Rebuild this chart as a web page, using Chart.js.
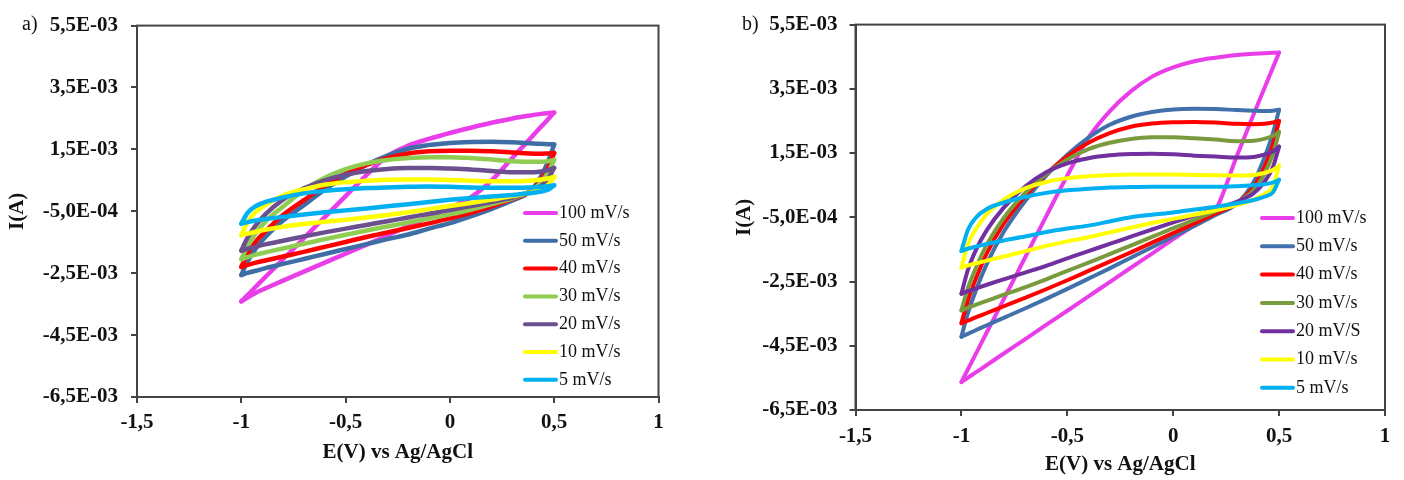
<!DOCTYPE html>
<html>
<head>
<meta charset="utf-8">
<title>Cyclic voltammograms</title>
<script src="https://cdn.jsdelivr.net/npm/chart.js@4.4.1/dist/chart.umd.min.js"></script>
<style>
  html, body { margin: 0; padding: 0; background: #ffffff; }
  body { width: 1404px; height: 480px; position: relative; overflow: hidden; font-family: 'Liberation Serif', 'Times New Roman', serif; }
  .panel { position: absolute; top: 0; height: 480px; }
  #panelA { left: 0; width: 700px; }
  #panelB { left: 700px; width: 704px; }
  .tag { position: absolute; top: 13px; font-size: 20px; line-height: 20px; color: #111; }
</style>
</head>
<body>
<div class="panel" id="panelA"><canvas id="chartA"></canvas></div>
<div class="panel" id="panelB"><canvas id="chartB"></canvas></div>
<div class="tag" style="left:22px">a)</div>
<div class="tag" style="left:742px">b)</div>
<script>
// Potential steps (V vs Ag/AgCl) shared by every scan branch
const potential = [-1, -0.97, -0.93, -0.88, -0.8, -0.7, -0.6, -0.5, -0.4, -0.3, -0.2, -0.1, 0, 0.1, 0.2, 0.3, 0.38, 0.43, 0.47, 0.5];

const scanRatesA = ['100 mV/s', '50 mV/s', '40 mV/s', '30 mV/s', '20 mV/s', '10 mV/s', '5 mV/s'];
const scanRatesB = ['100 mV/s', '50 mV/s', '40 mV/s', '30 mV/s', '20 mV/S', '10 mV/s', '5 mV/s'];

const xTickValues = [-1.5, -1, -0.5, 0, 0.5, 1];
const xTickLabels = ['-1,5', '-1', '-0,5', '0', '0,5', '1'];
const yTickValues = [-6.5e-3, -4.5e-3, -2.5e-3, -0.5e-3, 1.5e-3, 3.5e-3, 5.5e-3];
const yTickLabels = ['-6,5E-03', '-4,5E-03', '-2,5E-03', '-5,0E-04', '1,5E-03', '3,5E-03', '5,5E-03'];

// Panel a, current in mA: forward (anodic) sweep -1 -> 0.5 V, one row per scan rate
const anodicA = [
  [-3.41, -3.21, -2.93, -2.59, -2.05, -1.37, -0.69, -0.01, 0.67, 1.28, 1.62, 1.84, 2.03, 2.20, 2.36, 2.50, 2.59, 2.64, 2.67, 2.69],
  [-2.56, -2.12, -1.70, -1.30, -0.80, -0.30, 0.20, 0.62, 1.00, 1.30, 1.52, 1.64, 1.71, 1.74, 1.75, 1.73, 1.70, 1.68, 1.67, 1.66],
  [-2.30, -1.88, -1.47, -1.12, -0.62, -0.14, 0.32, 0.72, 1.00, 1.22, 1.37, 1.44, 1.46, 1.46, 1.44, 1.40, 1.37, 1.36, 1.37, 1.38],
  [-2.05, -1.62, -1.20, -0.80, -0.35, 0.18, 0.58, 0.86, 1.05, 1.16, 1.22, 1.25, 1.25, 1.22, 1.17, 1.12, 1.10, 1.10, 1.12, 1.16],
  [-1.77, -1.35, -0.95, -0.57, -0.12, 0.24, 0.50, 0.68, 0.80, 0.87, 0.90, 0.90, 0.88, 0.85, 0.80, 0.76, 0.76, 0.78, 0.83, 0.90],
  [-1.27, -0.85, -0.52, -0.28, 0.01, 0.21, 0.36, 0.44, 0.49, 0.52, 0.53, 0.53, 0.51, 0.49, 0.47, 0.47, 0.49, 0.52, 0.56, 0.61],
  [-0.90, -0.55, -0.33, -0.19, -0.05, 0.08, 0.16, 0.21, 0.25, 0.27, 0.29, 0.30, 0.29, 0.27, 0.26, 0.26, 0.27, 0.29, 0.31, 0.34]
];
// Panel a, current in mA: reverse (cathodic) sweep 0.5 -> -1 V, listed by increasing potential
const cathodicA = [
  [-3.41, -3.29, -3.13, -2.98, -2.74, -2.45, -2.16, -1.87, -1.58, -1.28, -0.98, -0.68, -0.38, -0.05, 0.50, 1.23, 1.81, 2.18, 2.47, 2.69],
  [-2.56, -2.49, -2.42, -2.33, -2.20, -2.04, -1.88, -1.72, -1.56, -1.40, -1.25, -1.06, -0.88, -0.66, -0.42, -0.15, 0.12, 0.55, 1.10, 1.66],
  [-2.30, -2.23, -2.16, -2.08, -1.96, -1.81, -1.65, -1.49, -1.33, -1.18, -1.04, -0.89, -0.73, -0.55, -0.34, -0.10, 0.12, 0.45, 0.90, 1.38],
  [-2.05, -1.98, -1.90, -1.82, -1.70, -1.55, -1.40, -1.26, -1.12, -0.99, -0.86, -0.73, -0.60, -0.45, -0.27, -0.08, 0.13, 0.38, 0.75, 1.16],
  [-1.77, -1.71, -1.64, -1.56, -1.45, -1.31, -1.18, -1.06, -0.94, -0.82, -0.70, -0.58, -0.46, -0.33, -0.20, -0.06, 0.12, 0.28, 0.55, 0.90],
  [-1.27, -1.22, -1.16, -1.09, -1.00, -0.91, -0.84, -0.77, -0.70, -0.62, -0.53, -0.43, -0.33, -0.23, -0.12, -0.01, 0.10, 0.20, 0.35, 0.61],
  [-0.90, -0.85, -0.80, -0.75, -0.68, -0.60, -0.53, -0.47, -0.41, -0.34, -0.27, -0.20, -0.13, -0.07, -0.02, 0.03, 0.08, 0.13, 0.20, 0.34]
];

// Panel b, current in mA: forward sweep
const anodicB = [
  [-5.63, -5.24, -4.73, -4.08, -3.05, -1.76, -0.47, 0.80, 1.98, 2.80, 3.42, 3.88, 4.17, 4.36, 4.47, 4.55, 4.59, 4.61, 4.62, 4.63],
  [-4.22, -3.50, -2.75, -1.95, -0.95, 0.00, 0.80, 1.45, 1.98, 2.38, 2.63, 2.78, 2.86, 2.88, 2.87, 2.84, 2.82, 2.81, 2.82, 2.85],
  [-3.80, -3.10, -2.38, -1.62, -0.70, 0.15, 0.85, 1.40, 1.82, 2.12, 2.32, 2.42, 2.46, 2.47, 2.45, 2.41, 2.40, 2.41, 2.45, 2.50],
  [-3.40, -2.72, -2.05, -1.35, -0.52, 0.25, 0.85, 1.30, 1.62, 1.82, 1.94, 1.99, 1.99, 1.96, 1.92, 1.87, 1.88, 1.94, 2.03, 2.16],
  [-2.88, -2.15, -1.50, -0.90, -0.20, 0.45, 0.90, 1.18, 1.34, 1.43, 1.47, 1.48, 1.46, 1.42, 1.39, 1.36, 1.38, 1.45, 1.55, 1.70],
  [-2.06, -1.35, -0.85, -0.40, 0.05, 0.40, 0.60, 0.72, 0.78, 0.81, 0.83, 0.83, 0.83, 0.82, 0.81, 0.80, 0.82, 0.88, 0.97, 1.11],
  [-1.55, -0.90, -0.50, -0.24, -0.04, 0.13, 0.26, 0.34, 0.39, 0.43, 0.44, 0.45, 0.45, 0.45, 0.45, 0.47, 0.50, 0.53, 0.58, 0.67]
];
// Panel b, current in mA: reverse sweep
const cathodicB = [
  [-5.63, -5.50, -5.32, -5.10, -4.74, -4.30, -3.85, -3.41, -2.96, -2.52, -2.07, -1.63, -1.18, -0.74, -0.27, 1.40, 2.71, 3.51, 4.15, 4.63],
  [-4.22, -4.13, -4.01, -3.86, -3.63, -3.34, -3.04, -2.73, -2.41, -2.09, -1.76, -1.43, -1.10, -0.77, -0.43, -0.08, 0.60, 1.35, 2.10, 2.85],
  [-3.80, -3.72, -3.61, -3.48, -3.27, -3.01, -2.74, -2.46, -2.17, -1.88, -1.59, -1.29, -0.99, -0.69, -0.38, -0.06, 0.45, 1.05, 1.75, 2.50],
  [-3.40, -3.32, -3.22, -3.10, -2.91, -2.68, -2.43, -2.17, -1.91, -1.65, -1.38, -1.11, -0.84, -0.58, -0.31, -0.04, 0.35, 0.85, 1.45, 2.16],
  [-2.88, -2.80, -2.71, -2.60, -2.43, -2.22, -2.01, -1.78, -1.55, -1.33, -1.10, -0.88, -0.66, -0.45, -0.24, -0.02, 0.25, 0.60, 1.05, 1.70],
  [-2.06, -2.00, -1.93, -1.85, -1.72, -1.56, -1.39, -1.25, -1.12, -0.97, -0.82, -0.68, -0.55, -0.42, -0.28, -0.12, 0.05, 0.22, 0.45, 1.11],
  [-1.55, -1.48, -1.41, -1.33, -1.22, -1.10, -0.96, -0.85, -0.76, -0.63, -0.50, -0.42, -0.35, -0.26, -0.17, -0.06, 0.04, 0.14, 0.27, 0.67]
];

const coloursA = ['#E83DE8', '#3F6DA6', '#FF0000', '#8FCC52', '#6B4F8F', '#FFFF00', '#00B0F0'];
const coloursB = ['#E83DE8', '#4270AA', '#FF0000', '#7A9A3E', '#7030A0', '#FFFF00', '#00B0F0'];

const SERIF = "'Liberation Serif', 'Times New Roman', serif";
const AXIS_COLOUR = '#444444';
const TEXT_COLOUR = '#111111';

// Box around the plotting area
const plotFrame = {
  id: 'plotFrame',
  afterDraw(chart) {
    const { left, top, right, bottom } = chart.chartArea;
    const ctx = chart.ctx;
    ctx.save();
    ctx.strokeStyle = AXIS_COLOUR;
    ctx.lineWidth = 2;
    ctx.strokeRect(left, top, right - left, bottom - top);
    ctx.restore();
  }
};

// Scan-rate key drawn inside the plotting area
const rateKey = {
  id: 'rateKey',
  afterDatasetsDraw(chart, args, o) {
    const ctx = chart.ctx;
    ctx.save();
    ctx.font = o.fontSize + 'px ' + SERIF;
    ctx.textBaseline = 'middle';
    ctx.textAlign = 'left';
    o.labels.forEach((label, i) => {
      const y = o.top + i * o.step;
      ctx.strokeStyle = o.colours[i];
      ctx.lineWidth = o.lineWidth;
      ctx.lineCap = 'round';
      ctx.beginPath();
      ctx.moveTo(o.x0, y);
      ctx.lineTo(o.x1, y);
      ctx.stroke();
      ctx.fillStyle = TEXT_COLOUR;
      ctx.fillText(label, o.textX, y);
    });
    ctx.restore();
  }
};

function branch(values) {
  return potential.map((e, k) => ({ x: e, y: values[k] / 1000 }));
}

function buildDatasets(labels, colours, anodic, cathodic, width) {
  const sets = [];
  labels.forEach((label, i) => {
    [anodic[i], cathodic[i]].forEach(values => {
      sets.push({
        label: label,
        data: branch(values),
        borderColor: colours[i],
        backgroundColor: colours[i],
        borderWidth: width,
        showLine: true,
        fill: false,
        pointRadius: 0,
        pointHoverRadius: 0,
        cubicInterpolationMode: 'monotone',
        borderCapStyle: 'round',
        borderJoinStyle: 'round',
        order: labels.length - i
      });
    });
  });
  return sets;
}

function buildPanel(canvasId, cfg) {
  const boldFont = { family: SERIF, size: 21, weight: 'bold' };
  return new Chart(document.getElementById(canvasId), {
    type: 'scatter',
    data: { datasets: buildDatasets(cfg.labels, cfg.colours, cfg.anodic, cfg.cathodic, cfg.lineWidth) },
    options: {
      responsive: true,
      maintainAspectRatio: false,
      devicePixelRatio: 1,
      animation: false,
      events: [],
      layout: { padding: { left: 0, top: 20, right: cfg.padRight, bottom: 0 } },
      plugins: {
        legend: { display: false },
        tooltip: { enabled: false },
        rateKey: cfg.key
      },
      scales: {
        x: {
          type: 'linear',
          min: -1.5,
          max: 1,
          afterBuildTicks: s => { s.ticks = xTickValues.map(v => ({ value: v })); },
          afterFit: s => { s.height = cfg.xAxisHeight; },
          border: { display: true, color: AXIS_COLOUR, width: 2 },
          grid: { drawOnChartArea: false, drawTicks: true, tickLength: 6, color: AXIS_COLOUR, lineWidth: 2 },
          ticks: {
            autoSkip: false,
            maxRotation: 0,
            padding: cfg.xTickPad,
            color: TEXT_COLOUR,
            font: boldFont,
            callback: v => xTickLabels[xTickValues.indexOf(v)]
          },
          title: {
            display: true,
            text: 'E(V) vs Ag/AgCl',
            color: TEXT_COLOUR,
            font: boldFont,
            padding: { top: 0, bottom: cfg.xTitlePad }
          }
        },
        y: {
          type: 'linear',
          min: -6.5e-3,
          max: 5.5e-3,
          afterBuildTicks: s => { s.ticks = yTickValues.map(v => ({ value: v })); },
          afterFit: s => { s.width = cfg.yAxisWidth; },
          border: { display: true, color: AXIS_COLOUR, width: 2 },
          grid: { drawOnChartArea: false, drawTicks: true, tickLength: 6, color: AXIS_COLOUR, lineWidth: 2 },
          ticks: {
            autoSkip: false,
            padding: cfg.yTickPad,
            color: TEXT_COLOUR,
            font: boldFont,
            callback: v => yTickLabels[yTickValues.indexOf(v)]
          },
          title: {
            display: true,
            text: 'I(A)',
            color: TEXT_COLOUR,
            font: boldFont,
            padding: { top: cfg.yTitlePad, bottom: 0 }
          }
        }
      }
    },
    plugins: [plotFrame, rateKey]
  });
}

buildPanel('chartA', {
  labels: scanRatesA, colours: coloursA, anodic: anodicA, cathodic: cathodicA,
  lineWidth: 4.5, padRight: 41.5, xAxisHeight: 83, yAxisWidth: 137,
  xTickPad: 7.4, xTitlePad: 14.4, yTickPad: 13, yTitlePad: 5.4,
  key: { labels: scanRatesA, colours: coloursA, x0: 525, x1: 556, textX: 559, top: 213, step: 27.8, lineWidth: 4, fontSize: 18 }
});

buildPanel('chartB', {
  labels: scanRatesB, colours: coloursB, anodic: anodicB, cathodic: cathodicB,
  lineWidth: 4, padRight: 19, xAxisHeight: 70, yAxisWidth: 155.5,
  xTickPad: 8.4, xTitlePad: 2.4, yTickPad: 12, yTitlePad: 32.4,
  key: { labels: scanRatesB, colours: coloursB, x0: 562, x1: 593, textX: 596, top: 218, step: 28.3, lineWidth: 4, fontSize: 18 }
});
</script>
</body>
</html>
